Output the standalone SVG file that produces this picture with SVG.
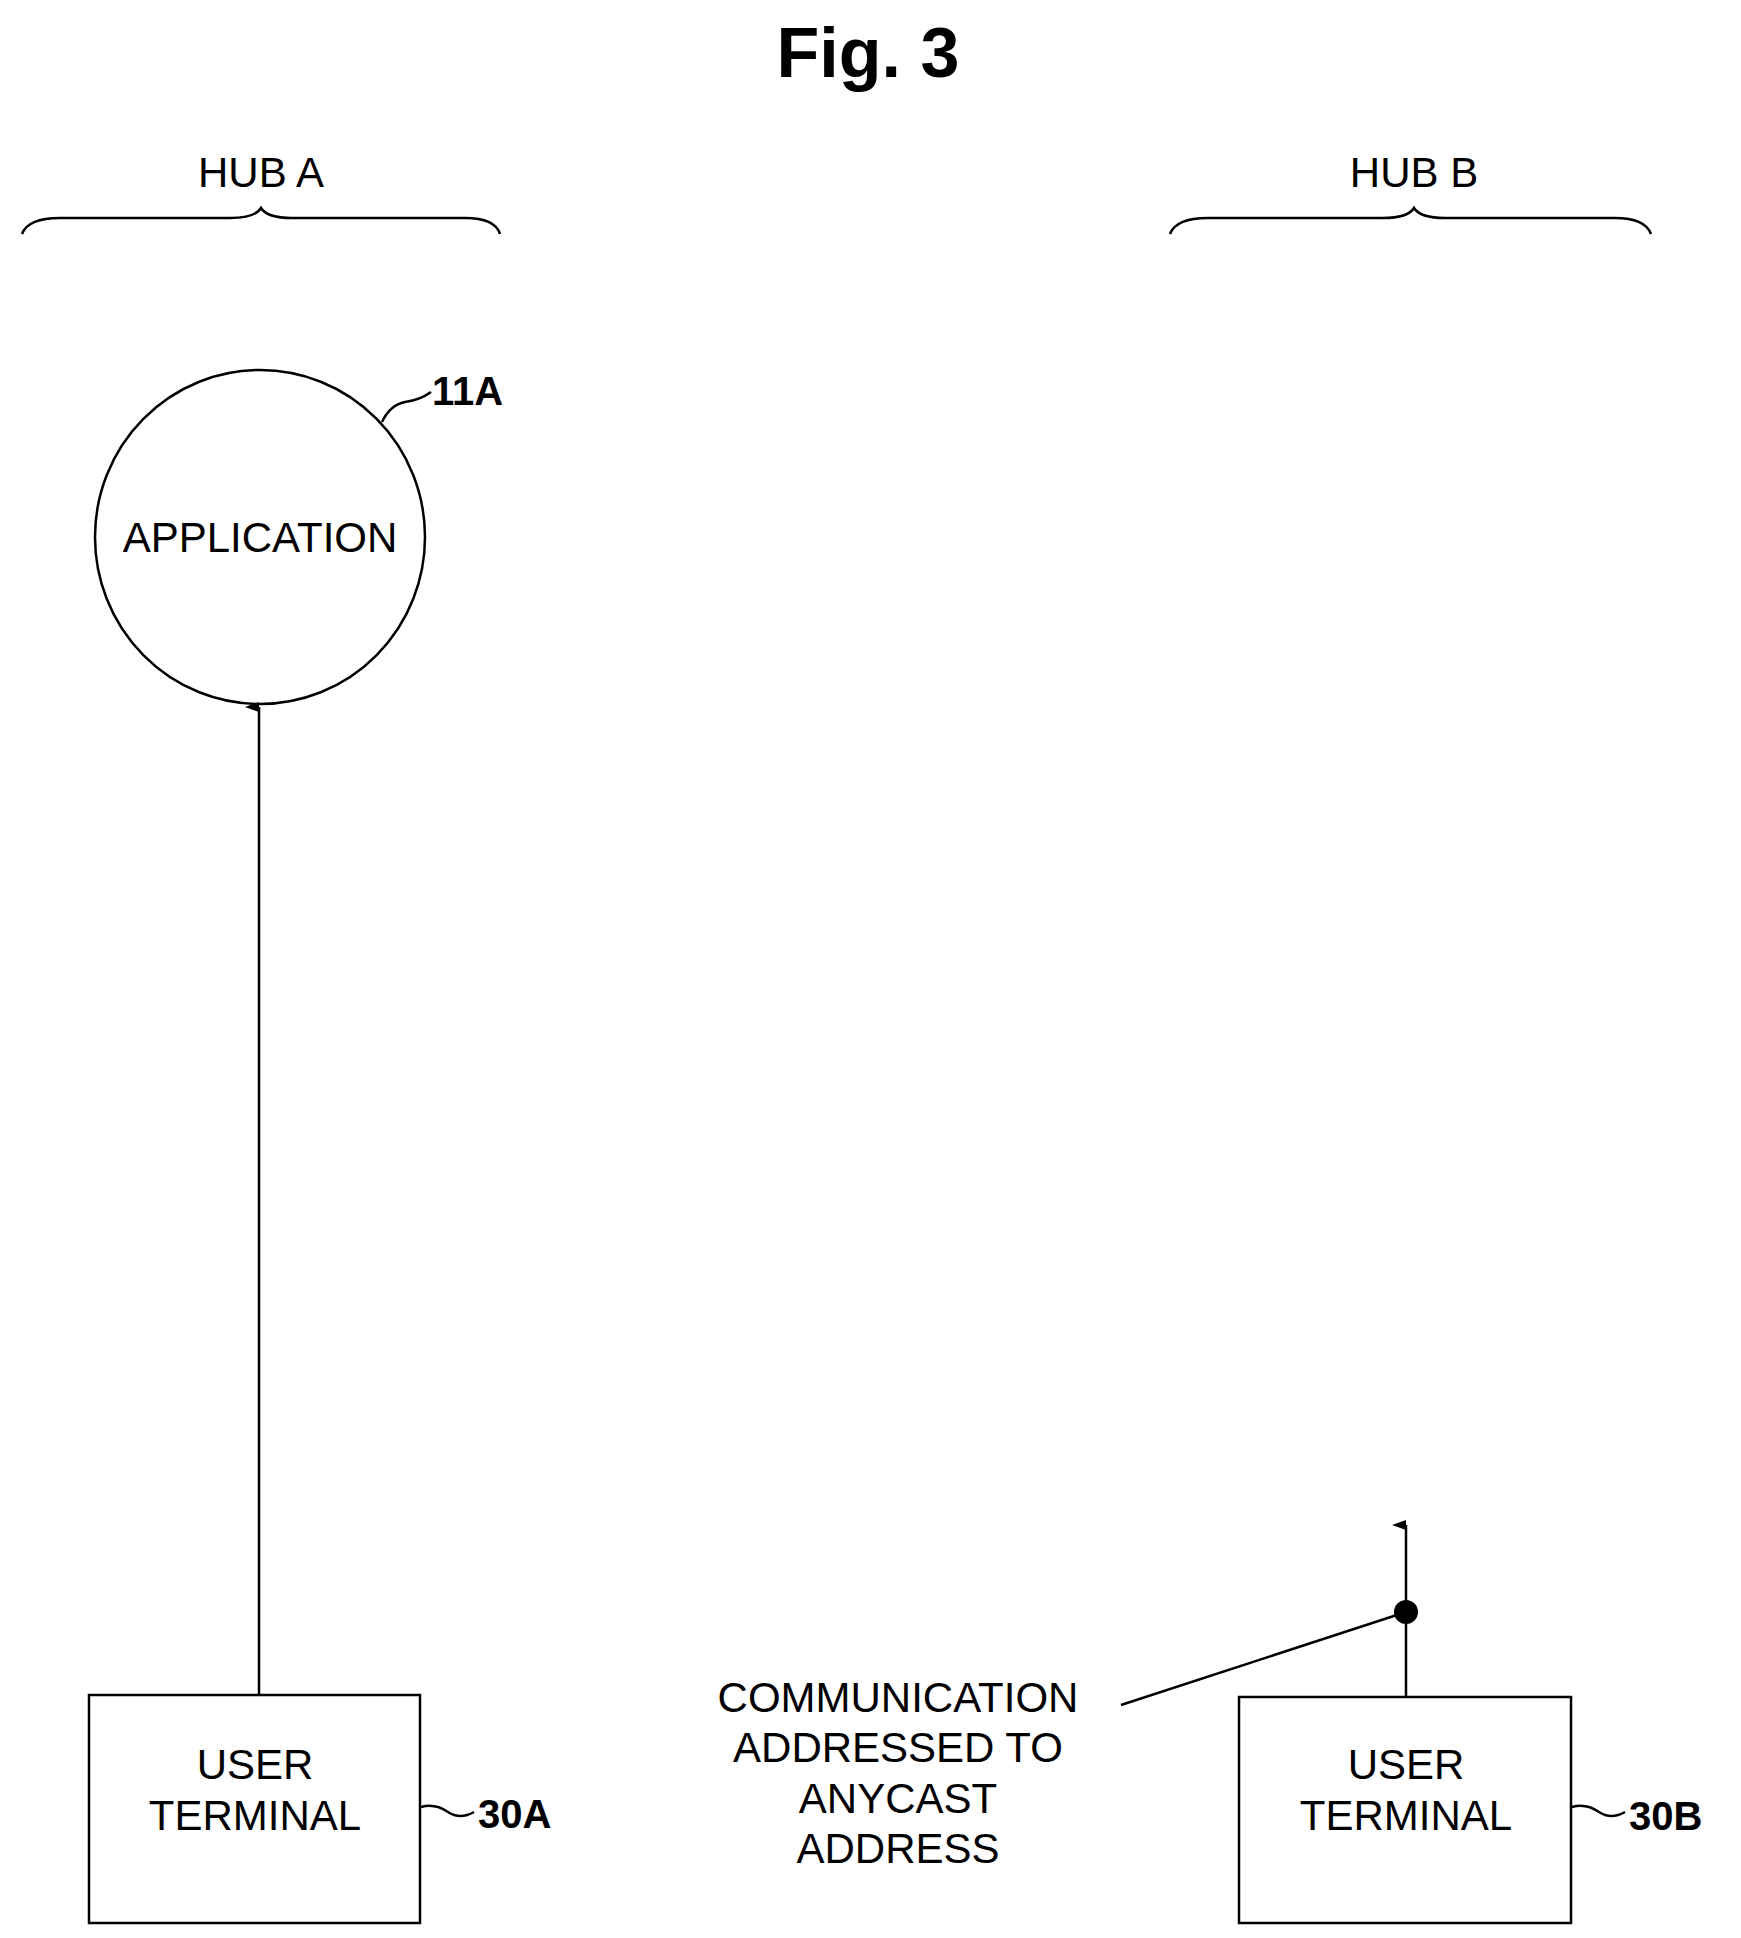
<svg xmlns="http://www.w3.org/2000/svg" width="1741" height="1938" viewBox="0 0 1741 1938">
<style>
text{font-family:"Liberation Sans",Arial,sans-serif;fill:#000}
.l{fill:none;stroke:#000;stroke-width:2.5}
.t{font-size:42px;text-anchor:middle}
.ref{font-size:40px;font-weight:bold}
</style>
<defs><marker id="ah" markerWidth="10" markerHeight="14" refX="5" refY="14" orient="auto-start-reverse" markerUnits="userSpaceOnUse" viewBox="0 0 10 14"><path d="M0,14 L5,0 L10,14 Z" fill="#000"/></marker></defs>
<rect width="1741" height="1938" fill="#fff"/>
<text x="868" y="77" font-size="70" font-weight="bold" text-anchor="middle">Fig. 3</text>
<g id="hubA"><text class="t" x="261" y="187">HUB A</text><path class="l" d="M22,234 Q28,218 60,218 L230,218 Q255,218 261,208 Q267,218 292,218 L465,218 Q495,218 500,234"/></g>
<g id="hubB"><text class="t" x="1414" y="187">HUB B</text><path class="l" d="M1170,234 Q1176,218 1208,218 L1383,218 Q1408,218 1414,208 Q1420,218 1445,218 L1615,218 Q1645,218 1651,234"/></g>
<g id="app11A"><ellipse class="l" cx="260" cy="537" rx="165" ry="167"/><text class="t" x="260" y="552">APPLICATION</text><path class="l" d="M382,422 Q390,405 405,402 Q420,400 431,392"/><text class="ref" x="432" y="405">11A</text></g>
<g id="ut30A"><rect class="l" x="89" y="1695" width="331" height="228"/><text class="t" x="255" y="1779">USER</text><text class="t" x="255" y="1830">TERMINAL</text><path class="l" d="M421,1807 Q435,1803 448,1812 Q460,1820 474,1812"/><text class="ref" x="478" y="1828">30A</text></g>
<g id="ut30B"><rect class="l" x="1239" y="1697" width="332" height="226"/><text class="t" x="1406" y="1779">USER</text><text class="t" x="1406" y="1830">TERMINAL</text><path class="l" d="M1572,1807 Q1586,1803 1599,1812 Q1611,1820 1625,1812"/><text class="ref" x="1629" y="1830">30B</text></g>
<g id="comm"><text class="t" x="898" y="1712">COMMUNICATION</text><text class="t" x="898" y="1762">ADDRESSED TO</text><text class="t" x="898" y="1813">ANYCAST</text><text class="t" x="898" y="1863">ADDRESS</text></g>
<g id="connectors">
<line class="l" x1="259" y1="1694" x2="259" y2="707" marker-end="url(#ah)"/>
<line class="l" x1="1406" y1="1697" x2="1406" y2="1525" marker-end="url(#ah)"/>
<line class="l" x1="1121" y1="1705" x2="1406" y2="1612" stroke-width="3"/>
<circle cx="1406" cy="1612" r="12" fill="#000"/>
</g>
</svg>
